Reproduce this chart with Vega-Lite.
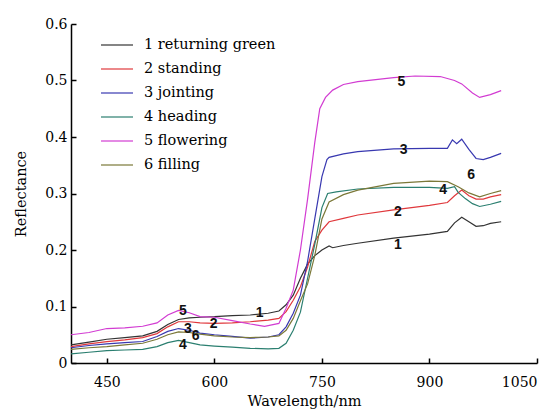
{
  "$schema": "https://vega.github.io/schema/vega-lite/v6.json",
  "width": 466,
  "height": 339,
  "autosize": {"type": "none"},
  "padding": {"left": 71, "top": 24, "right": 18, "bottom": 53},
  "background": "white",
  "config": {
    "view": {"stroke": null},
    "axis": {"grid": false, "domainColor": "#000", "domainWidth": 1.5, "tickColor": "#000", "tickWidth": 1.5, "labelFont": "DejaVu Serif", "titleFont": "DejaVu Serif", "labelFontSize": 14, "titleFontSize": 14.5, "labelColor": "#000", "titleColor": "#000", "titleFontWeight": "normal"}
  },
  "datasets": {
    "spec": [
      {"s":"1 returning green","w":400,"r":0.032},{"s":"1 returning green","w":425,"r":0.037},{"s":"1 returning green","w":450,"r":0.042},{"s":"1 returning green","w":475,"r":0.045},{"s":"1 returning green","w":500,"r":0.048},{"s":"1 returning green","w":520,"r":0.056},{"s":"1 returning green","w":535,"r":0.068},{"s":"1 returning green","w":550,"r":0.077},{"s":"1 returning green","w":565,"r":0.080},{"s":"1 returning green","w":580,"r":0.081},{"s":"1 returning green","w":600,"r":0.082},{"s":"1 returning green","w":625,"r":0.084},{"s":"1 returning green","w":650,"r":0.085},{"s":"1 returning green","w":675,"r":0.088},{"s":"1 returning green","w":690,"r":0.092},{"s":"1 returning green","w":700,"r":0.103},{"s":"1 returning green","w":710,"r":0.12},{"s":"1 returning green","w":720,"r":0.15},{"s":"1 returning green","w":730,"r":0.175},{"s":"1 returning green","w":740,"r":0.19},{"s":"1 returning green","w":750,"r":0.2},{"s":"1 returning green","w":760,"r":0.207},{"s":"1 returning green","w":765,"r":0.204},{"s":"1 returning green","w":780,"r":0.208},{"s":"1 returning green","w":800,"r":0.212},{"s":"1 returning green","w":850,"r":0.221},{"s":"1 returning green","w":900,"r":0.228},{"s":"1 returning green","w":925,"r":0.233},{"s":"1 returning green","w":935,"r":0.248},{"s":"1 returning green","w":945,"r":0.258},{"s":"1 returning green","w":955,"r":0.25},{"s":"1 returning green","w":965,"r":0.242},{"s":"1 returning green","w":975,"r":0.243},{"s":"1 returning green","w":985,"r":0.247},{"s":"1 returning green","w":1000,"r":0.25},
      {"s":"2 standing","w":400,"r":0.029},{"s":"2 standing","w":425,"r":0.034},{"s":"2 standing","w":450,"r":0.038},{"s":"2 standing","w":475,"r":0.041},{"s":"2 standing","w":500,"r":0.045},{"s":"2 standing","w":520,"r":0.052},{"s":"2 standing","w":535,"r":0.064},{"s":"2 standing","w":550,"r":0.073},{"s":"2 standing","w":565,"r":0.073},{"s":"2 standing","w":580,"r":0.071},{"s":"2 standing","w":600,"r":0.070},{"s":"2 standing","w":625,"r":0.071},{"s":"2 standing","w":650,"r":0.073},{"s":"2 standing","w":675,"r":0.076},{"s":"2 standing","w":690,"r":0.079},{"s":"2 standing","w":700,"r":0.091},{"s":"2 standing","w":710,"r":0.111},{"s":"2 standing","w":720,"r":0.135},{"s":"2 standing","w":730,"r":0.17},{"s":"2 standing","w":740,"r":0.215},{"s":"2 standing","w":750,"r":0.235},{"s":"2 standing","w":760,"r":0.25},{"s":"2 standing","w":780,"r":0.256},{"s":"2 standing","w":800,"r":0.262},{"s":"2 standing","w":850,"r":0.271},{"s":"2 standing","w":900,"r":0.279},{"s":"2 standing","w":925,"r":0.284},{"s":"2 standing","w":935,"r":0.296},{"s":"2 standing","w":945,"r":0.306},{"s":"2 standing","w":955,"r":0.296},{"s":"2 standing","w":965,"r":0.29},{"s":"2 standing","w":975,"r":0.29},{"s":"2 standing","w":985,"r":0.294},{"s":"2 standing","w":1000,"r":0.298},
      {"s":"3 jointing","w":400,"r":0.027},{"s":"3 jointing","w":425,"r":0.031},{"s":"3 jointing","w":450,"r":0.034},{"s":"3 jointing","w":475,"r":0.036},{"s":"3 jointing","w":500,"r":0.038},{"s":"3 jointing","w":520,"r":0.047},{"s":"3 jointing","w":535,"r":0.056},{"s":"3 jointing","w":550,"r":0.061},{"s":"3 jointing","w":565,"r":0.058},{"s":"3 jointing","w":580,"r":0.053},{"s":"3 jointing","w":600,"r":0.050},{"s":"3 jointing","w":625,"r":0.047},{"s":"3 jointing","w":650,"r":0.044},{"s":"3 jointing","w":675,"r":0.046},{"s":"3 jointing","w":690,"r":0.050},{"s":"3 jointing","w":700,"r":0.064},{"s":"3 jointing","w":710,"r":0.088},{"s":"3 jointing","w":720,"r":0.12},{"s":"3 jointing","w":730,"r":0.18},{"s":"3 jointing","w":740,"r":0.255},{"s":"3 jointing","w":750,"r":0.33},{"s":"3 jointing","w":757,"r":0.36},{"s":"3 jointing","w":760,"r":0.364},{"s":"3 jointing","w":780,"r":0.37},{"s":"3 jointing","w":800,"r":0.374},{"s":"3 jointing","w":850,"r":0.379},{"s":"3 jointing","w":900,"r":0.38},{"s":"3 jointing","w":925,"r":0.38},{"s":"3 jointing","w":932,"r":0.395},{"s":"3 jointing","w":938,"r":0.388},{"s":"3 jointing","w":945,"r":0.396},{"s":"3 jointing","w":955,"r":0.378},{"s":"3 jointing","w":965,"r":0.362},{"s":"3 jointing","w":975,"r":0.36},{"s":"3 jointing","w":985,"r":0.364},{"s":"3 jointing","w":1000,"r":0.371},
      {"s":"4 heading","w":400,"r":0.016},{"s":"4 heading","w":425,"r":0.019},{"s":"4 heading","w":450,"r":0.022},{"s":"4 heading","w":475,"r":0.023},{"s":"4 heading","w":500,"r":0.024},{"s":"4 heading","w":520,"r":0.029},{"s":"4 heading","w":535,"r":0.036},{"s":"4 heading","w":550,"r":0.040},{"s":"4 heading","w":565,"r":0.036},{"s":"4 heading","w":580,"r":0.032},{"s":"4 heading","w":600,"r":0.030},{"s":"4 heading","w":625,"r":0.028},{"s":"4 heading","w":650,"r":0.026},{"s":"4 heading","w":675,"r":0.025},{"s":"4 heading","w":690,"r":0.026},{"s":"4 heading","w":700,"r":0.035},{"s":"4 heading","w":710,"r":0.058},{"s":"4 heading","w":720,"r":0.09},{"s":"4 heading","w":730,"r":0.15},{"s":"4 heading","w":740,"r":0.21},{"s":"4 heading","w":750,"r":0.275},{"s":"4 heading","w":758,"r":0.30},{"s":"4 heading","w":770,"r":0.303},{"s":"4 heading","w":800,"r":0.308},{"s":"4 heading","w":850,"r":0.311},{"s":"4 heading","w":900,"r":0.311},{"s":"4 heading","w":925,"r":0.309},{"s":"4 heading","w":935,"r":0.312},{"s":"4 heading","w":940,"r":0.302},{"s":"4 heading","w":950,"r":0.291},{"s":"4 heading","w":960,"r":0.282},{"s":"4 heading","w":970,"r":0.277},{"s":"4 heading","w":985,"r":0.281},{"s":"4 heading","w":1000,"r":0.286},
      {"s":"5 flowering","w":400,"r":0.050},{"s":"5 flowering","w":425,"r":0.054},{"s":"5 flowering","w":450,"r":0.061},{"s":"5 flowering","w":475,"r":0.062},{"s":"5 flowering","w":500,"r":0.065},{"s":"5 flowering","w":520,"r":0.071},{"s":"5 flowering","w":535,"r":0.085},{"s":"5 flowering","w":550,"r":0.093},{"s":"5 flowering","w":565,"r":0.089},{"s":"5 flowering","w":580,"r":0.082},{"s":"5 flowering","w":600,"r":0.081},{"s":"5 flowering","w":625,"r":0.075},{"s":"5 flowering","w":650,"r":0.069},{"s":"5 flowering","w":670,"r":0.065},{"s":"5 flowering","w":690,"r":0.07},{"s":"5 flowering","w":700,"r":0.097},{"s":"5 flowering","w":710,"r":0.129},{"s":"5 flowering","w":720,"r":0.2},{"s":"5 flowering","w":730,"r":0.29},{"s":"5 flowering","w":740,"r":0.39},{"s":"5 flowering","w":747,"r":0.45},{"s":"5 flowering","w":755,"r":0.47},{"s":"5 flowering","w":765,"r":0.483},{"s":"5 flowering","w":780,"r":0.493},{"s":"5 flowering","w":800,"r":0.498},{"s":"5 flowering","w":850,"r":0.505},{"s":"5 flowering","w":880,"r":0.508},{"s":"5 flowering","w":915,"r":0.507},{"s":"5 flowering","w":935,"r":0.5},{"s":"5 flowering","w":945,"r":0.494},{"s":"5 flowering","w":960,"r":0.478},{"s":"5 flowering","w":970,"r":0.470},{"s":"5 flowering","w":985,"r":0.475},{"s":"5 flowering","w":1000,"r":0.482},
      {"s":"6 filling","w":400,"r":0.024},{"s":"6 filling","w":425,"r":0.027},{"s":"6 filling","w":450,"r":0.029},{"s":"6 filling","w":475,"r":0.032},{"s":"6 filling","w":500,"r":0.035},{"s":"6 filling","w":520,"r":0.042},{"s":"6 filling","w":535,"r":0.05},{"s":"6 filling","w":550,"r":0.055},{"s":"6 filling","w":565,"r":0.054},{"s":"6 filling","w":580,"r":0.051},{"s":"6 filling","w":600,"r":0.048},{"s":"6 filling","w":625,"r":0.046},{"s":"6 filling","w":650,"r":0.045},{"s":"6 filling","w":675,"r":0.046},{"s":"6 filling","w":690,"r":0.048},{"s":"6 filling","w":700,"r":0.058},{"s":"6 filling","w":710,"r":0.079},{"s":"6 filling","w":720,"r":0.11},{"s":"6 filling","w":730,"r":0.14},{"s":"6 filling","w":740,"r":0.19},{"s":"6 filling","w":750,"r":0.255},{"s":"6 filling","w":760,"r":0.285},{"s":"6 filling","w":780,"r":0.298},{"s":"6 filling","w":800,"r":0.306},{"s":"6 filling","w":850,"r":0.318},{"s":"6 filling","w":900,"r":0.322},{"s":"6 filling","w":925,"r":0.321},{"s":"6 filling","w":940,"r":0.312},{"s":"6 filling","w":955,"r":0.301},{"s":"6 filling","w":970,"r":0.294},{"s":"6 filling","w":985,"r":0.3},{"s":"6 filling","w":1000,"r":0.305}
    ],
    "labels": [
      {"t":"5","w":556,"r":0.092},{"t":"1","w":663,"r":0.088},{"t":"2","w":599,"r":0.069},{"t":"3","w":563,"r":0.061},{"t":"6","w":574,"r":0.048},{"t":"4","w":556,"r":0.032},
      {"t":"5","w":861,"r":0.498},{"t":"3","w":864,"r":0.377},{"t":"2","w":856,"r":0.268},{"t":"1","w":856,"r":0.209},{"t":"4","w":919,"r":0.307},{"t":"6","w":958,"r":0.333}
    ]
  },
  "layer": [
    {
      "data": {"name": "spec"},
      "mark": {"type": "line", "strokeWidth": 1.2},
      "encoding": {
        "x": {"field": "w", "type": "quantitative", "title": "Wavelength/nm", "scale": {"domain": [400, 1050], "nice": false}, "axis": {"values": [450, 600, 750, 900, 1050], "format": "d", "tickSize": -5, "labelPadding": 17, "titlePadding": 5}},
        "y": {"field": "r", "type": "quantitative", "title": "Reflectance", "scale": {"domain": [0, 0.6], "nice": false}, "axis": {"values": [0, 0.1, 0.2, 0.3, 0.4, 0.5, 0.6], "format": ".1~f", "tickSize": -5, "labelPadding": 9, "titlePadding": 16}},
        "color": {"field": "s", "type": "nominal", "title": null,
          "scale": {"domain": ["1 returning green", "2 standing", "3 jointing", "4 heading", "5 flowering", "6 filling"], "range": ["#333333", "#e0383c", "#3838b0", "#2b7f70", "#d23cd2", "#7b7838"]},
          "legend": {"orient": "none", "legendX": 29, "legendY": 4, "symbolType": "stroke", "symbolSize": 1024, "symbolStrokeWidth": 1.2, "labelFontSize": 14.5, "labelFont": "DejaVu Serif", "labelColor": "#000", "rowPadding": 0, "labelOffset": 10, "padding": 0}
        }
      }
    },
    {
      "data": {"name": "labels"},
      "mark": {"type": "text", "font": "Liberation Sans", "fontSize": 14, "fontWeight": "bold", "color": "#111"},
      "encoding": {
        "x": {"field": "w", "type": "quantitative"},
        "y": {"field": "r", "type": "quantitative"},
        "text": {"field": "t"}
      }
    }
  ]
}
